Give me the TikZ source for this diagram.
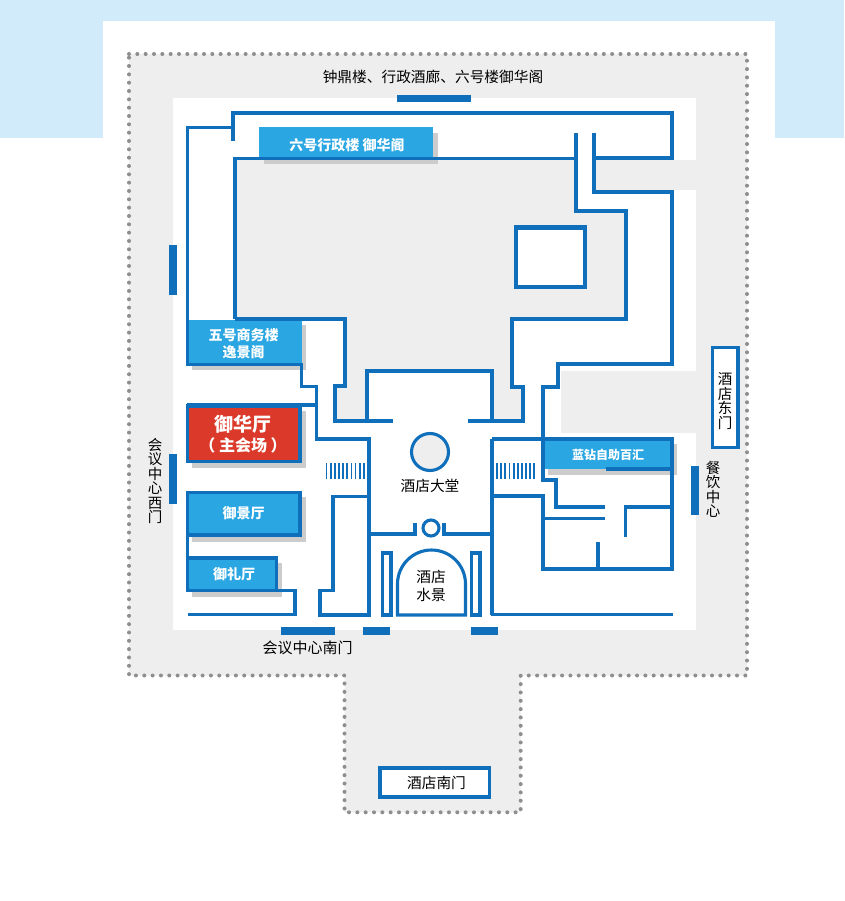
\documentclass[tikz,border=0pt]{standalone}
\usepackage{fontspec}
\setmainfont{Noto Sans CJK SC}
\usepackage{xcolor}
\definecolor{wallblue}{HTML}{0F6FBA}
\definecolor{roomblue}{HTML}{2AA6E2}
\definecolor{roomred}{HTML}{DB3A2A}
\definecolor{plangray}{HTML}{EEEEEE}
\definecolor{shadegray}{HTML}{CCCCCC}
\definecolor{dotgray}{HTML}{8E8E8E}
\definecolor{skyband}{HTML}{D2EBFA}
\tikzset{wall/.style={draw=wallblue,line width=3.1pt,line join=miter},
heavywall/.style={draw=wallblue,line width=4.4pt},
dropshade/.style={fill=shadegray},
doorbar/.style={fill=wallblue},
fence/.style={draw=dotgray,line width=4pt,line cap=round,dash pattern=on 0pt off 8.33pt},
maptext/.style={font=\fontsize{14.7}{17.5}\selectfont,align=center,text=black,inner sep=0pt},
stacktext/.style={font=\fontsize{14.5}{14.5}\selectfont,align=center,text=black,inner sep=0pt},
roomtext/.style={font=\fontsize{14}{17}\selectfont\bfseries,align=center,text=white,inner sep=0pt}}
\begin{document}
\begin{tikzpicture}[x=1pt,y=-1pt]
\useasboundingbox (0,0) rectangle (844,901);
\fill[white] (0,0) rectangle (844,901);
\fill[skyband] (0,0) rectangle (844,138);
\fill[white] (103,21) rectangle (775,901);
\fill[plangray] (129,54)--(747,54)--(747,675.5)--(520.7,675.5)--(520.7,812.3)--(344.5,812.3)--(344.5,675.5)--(129,675.5)--cycle;
\draw[fence] (129,54)--(747,54)--(747,675.5)--(520.7,675.5)--(520.7,812.3)--(344.5,812.3)--(344.5,675.5)--(129,675.5)--cycle;
\fill[white] (173,98) rectangle (695.5,630);
\fill[plangray] (595,160) rectangle (696,190.5);
\fill[plangray] (561,371) rectangle (696,433);
\fill[plangray] (235,159)--(576,159)--(576,211)--(626,211)--(626,319)--(512,319)--(512,387)--(523,387)--(523,421)--(492,421)--(492,371)--(367,371)--(367,421)--(335,421)--(335,386)--(345,386)--(345,319)--(235,319)--cycle;
\foreach \xa/\ya/\xb/\yb in {264/133/438/164,192/325/306/370,192/411/305.5/468,192/497/305.5/542,192/563/282/597,548/444/677/475} {
\fill[dropshade] (\xa,\ya) rectangle (\xb,\yb);}
\foreach \xa/\ya/\xb/\yb in {259/127/433/159,187/320/302/365,187/491/300/536,187/557/277/591,543/439/672/469} {
\fill[roomblue] (\xa,\ya) rectangle (\xb,\yb);}
\fill[roomred] (187,405) rectangle (300,462);
\draw[wall] (187.5,406) rectangle (300,461.5);
\draw[wall,line width=3.6pt] (187.5,492.5) rectangle (300,535);
\draw[wall] (187.5,558) rectangle (276.5,590.5);
\draw[wall] (187.5,557)--(187.5,536);
\draw[wall] (233,141)--(233,113)--(672,113)--(672,158)--(594,158);
\draw[wall] (233,127.5)--(187.5,127.5)--(187.5,364.5)--(301.7,364.5)--(301.7,386.5)--(316.7,386.5)--(316.7,439)--(369,439)--(369,615)--(320,615)--(320,590.7)--(333,590.7)--(333,496.7)--(369,496.7);
\draw[wall] (187,405)--(316.7,405);
\draw[wall] (594,133)--(594,192)--(672,192)--(672,364)--(558,364)--(558,387)--(543,387)--(543,480)--(556,480)--(556,507)--(605,507);
\draw[wall] (235,319)--(235,158.5)--(576,158.5);
\draw[wall] (576,133)--(576,211)--(626,211)--(626,319)--(512,319)--(512,387)--(523,387)--(523,421)--(468,421);
\draw[wall] (492,421)--(492,371)--(367,371)--(367,421);
\draw[wall] (393,421)--(335,421)--(335,386)--(345,386)--(345,319)--(235,319);
\draw[wall] (277,590.7)--(295,590.7)--(295,614.5)--(188,614.5);
\draw[wall] (369,534)--(415,534)--(415,522.5);
\draw[wall] (492,534)--(444,534)--(444,522.5);
\draw[wall] (492,439)--(492,615);
\draw[wall] (491,614.5)--(673,614.5);
\draw[wall] (492,439)--(672,439)--(672,569)--(543,569)--(543,496)--(491,496);
\draw[wall] (606,469)--(672,469);
\draw[wall] (543,518.5)--(605,518.5);
\draw[wall] (625.7,537)--(625.7,507)--(672,507);
\draw[wall] (598,569)--(598,541.5);
\draw[wall] (382.5,615)--(382.5,553)--(391,553)--(391,615)--cycle;
\draw[wall] (471.5,615)--(471.5,553)--(480,553)--(480,615)--cycle;
\draw[wall] (397.5,615)--(397.5,584) arc[start angle=180,end angle=360,radius=34]--(465.5,615)--cycle;
\draw[wall,fill=plangray] (430,452) circle (18.5);
\draw[wall,fill=white] (431,528) circle (8);
\draw[heavywall,fill=white] (516,227.7) rectangle (585,287);
\foreach \i in {0,...,9} {
\draw[wallblue,line width=1.8pt] ({326.5+4.15*\i},463)--++(0,16);
\draw[wallblue,line width=1.8pt] ({497+4.15*\i},463)--++(0,16);}
\foreach \xa/\ya/\xb/\yb in {396.5/95/471/102.5,168.5/245/176.7/295,168.5/454/176.7/504,281/627/334.5/634.5,363/627/390/634.5,470.7/627/497.5/634.5,690.7/465.7/698.5/514.5} {
\fill[doorbar] (\xa,\ya) rectangle (\xb,\yb);}
\draw[wall,fill=white] (712.5,347.5) rectangle (738,447.5);
\draw[wall,fill=white] (380,768) rectangle (489.5,797);
\node[maptext] (northgate) at (433,77) {钟鼎楼、行政酒廊、六号楼御华阁};
\node[roomtext,font=\fontsize{14}{16}\selectfont\bfseries] (buildingsix) at (347,145) {六号行政楼 御华阁};
\node[roomtext] (buildingfive) at (243.5,344) {五号商务楼\\逸景阁};
\node[roomtext,font=\fontsize{19}{19}\selectfont\bfseries] (mainhall) at (243,424) {御华厅};
\node[roomtext,font=\fontsize{16}{16}\selectfont\bfseries] (mainnote) at (243,445) {（ 主会场 ）};
\node[roomtext] (jinghall) at (243.5,513.5) {御景厅};
\node[roomtext] (lihall) at (234,574.5) {御礼厅};
\node[roomtext,font=\fontsize{12}{14}\selectfont\bfseries] (buffet) at (608,455) {蓝钻自助百汇};
\node[maptext] (lobby) at (430,486) {酒店大堂};
\node[maptext] (waterview) at (431,586) {酒店\\水景};
\node[maptext,font=\fontsize{15}{17}\selectfont] (southdoor) at (307.5,648) {会议中心南门};
\node[maptext] (hotelsouth) at (436.5,783) {酒店南门};
\node[stacktext] (westdoor) at (155,481) {会\\议\\中\\心\\西\\门};
\node[stacktext] (hoteleast) at (725,401) {酒\\店\\东\\门};
\node[stacktext] (dining) at (713,489.5) {餐\\饮\\中\\心};
\end{tikzpicture}
\end{document}
